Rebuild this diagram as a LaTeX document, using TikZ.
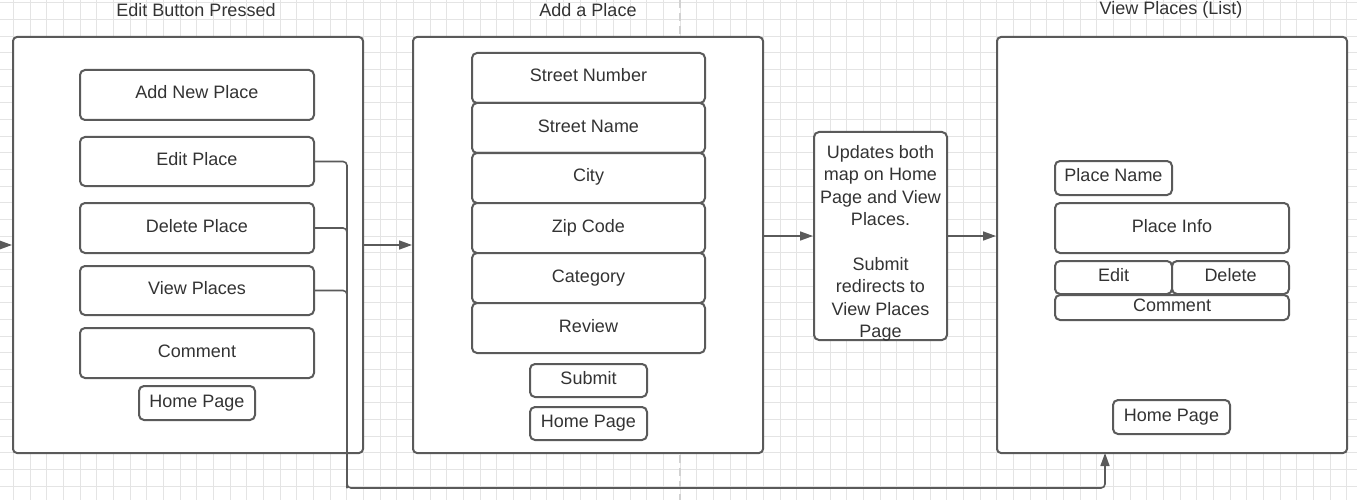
\documentclass[tikz,border=0pt]{standalone}
\usepackage{fontspec}
\setmainfont{Liberation Sans}
\usetikzlibrary{arrows.meta}
\definecolor{lc}{HTML}{5A5A5A}
\definecolor{tc}{HTML}{333333}
\definecolor{gc}{HTML}{E4E4E4}
\definecolor{dc}{HTML}{D2D2D2}
\tikzset{
  fs/.style={font=\fontsize{18}{22.4}\selectfont},
  frame/.style={draw=lc, line width=2pt, rounded corners=4pt, fill=white, minimum width=350pt, minimum height=416pt, inner sep=0pt},
  box/.style={draw=lc, line width=2pt, rounded corners=5pt, fill=white, text=tc, inner sep=0pt, fs, text height=13pt, text depth=5pt},
  ttl/.style={text=tc, inner sep=0pt, fs},
  arr/.style={draw=lc, line width=1.6pt, -{Triangle[length=13pt,width=9pt]}},
  conn/.style={draw=lc, line width=1.6pt, rounded corners=4pt},
}
\begin{document}
\begin{tikzpicture}[x=1pt,y=-1pt]
\useasboundingbox (0,0) rectangle (1357,500);
\fill[white] (0,0) rectangle (1357,500);
% grid
\foreach \i in {0,...,81} {\draw[gc, line width=0.8pt] ({13.3+\i*16.667},0) -- ({13.3+\i*16.667},500);}
\foreach \j in {0,...,29} {\draw[gc, line width=0.8pt] (0,{2.7+\j*16.667}) -- (1357,{2.7+\j*16.667});}
\draw[dc, line width=2pt, dash pattern=on 8pt off 5pt] (680,0) -- (680,500);

% titles
\node[ttl] (t1) at (196,10) {Edit Button Pressed};
\node[ttl] (t2) at (588,10) {Add a Place};
\node[ttl] (t3) at (1171,10) {View Places (List)};

% frames
\node[frame] (f1) at (188,245) {};
\node[frame] (f2) at (588,245) {};
\node[frame] (f3) at (1172,245) {};

% frame 1 contents
\node[box, minimum width=234pt, minimum height=50pt] (addp) at (197,95) {Add New Place};
\node[box, minimum width=234pt, minimum height=49pt] (editp) at (197,161.5) {Edit Place};
\node[box, minimum width=234pt, minimum height=50pt] (delp) at (197,228) {Delete Place};
\node[box, minimum width=234pt, minimum height=49pt] (viewp) at (197,290.5) {View Places};
\node[box, minimum width=234pt, minimum height=50pt] (comm1) at (197,353) {Comment};
\node[box, minimum width=116pt, minimum height=34pt] (home1) at (197,403) {Home Page};

% frame 2 contents
\node[box, minimum width=233pt, minimum height=50pt] (snum) at (588.5,78) {Street Number};
\node[box, minimum width=233pt, minimum height=50pt] (sname) at (588.5,128) {Street Name};
\node[box, minimum width=233pt, minimum height=50pt] (city) at (588.5,178) {City};
\node[box, minimum width=233pt, minimum height=50pt] (zip) at (588.5,228) {Zip Code};
\node[box, minimum width=233pt, minimum height=50pt] (cat) at (588.5,278) {Category};
\node[box, minimum width=233pt, minimum height=50pt] (rev) at (588.5,328) {Review};
\node[box, minimum width=117pt, minimum height=33pt] (submit) at (588.5,380.5) {Submit};
\node[box, minimum width=117pt, minimum height=33pt] (home2) at (588.5,423.5) {Home Page};

% middle box
\node[box, minimum width=133pt, minimum height=208pt] (upd) at (880.5,236) {};
\node[text=tc, inner sep=0pt, fs, align=center] (updtxt) at (880.5,243.5) {Updates both\\map on Home\\Page and View\\Places.\\[22.4pt]Submit\\redirects to\\View Places\\Page};

% frame 3 contents
\node[box, minimum width=117pt, minimum height=34pt] (pname) at (1113.5,178) {Place Name};
\node[box, minimum width=234pt, minimum height=50pt] (pinfo) at (1172,228) {Place Info};
\node[box, minimum width=117pt, minimum height=33pt] (edit3) at (1113.5,277.5) {Edit};
\node[box, minimum width=117pt, minimum height=33pt] (del3) at (1230.5,277.5) {Delete};
\node[box, minimum width=234pt, minimum height=25pt] (comm3) at (1172,307.5) {Comment};
\node[box, minimum width=117pt, minimum height=34pt] (home3) at (1171.5,417) {Home Page};

% connectors
\coordinate (lin) at (0,245);
\draw[arr] (lin) -- (lin -| f1.west);
\draw[arr] (f1.east) -- (f2.west);
\draw[arr] (f2.east |- upd.west) -- (upd.west);
\draw[arr] (upd.east) -- (upd.east -| f3.west);

\coordinate (bend) at (347,488);
\coordinate (tgt) at (1105,453);
\draw[conn] (delp.east) -| (bend);
\draw[conn] (viewp.east) -| (bend);
\draw[conn, arr] (editp.east) -| (bend) -| (tgt);
\end{tikzpicture}
\end{document}
